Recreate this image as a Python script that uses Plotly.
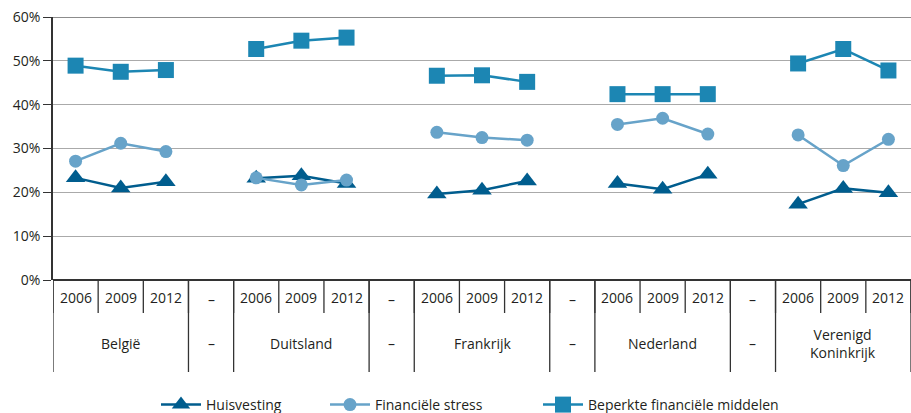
import plotly.graph_objects as go

countries = ["België", "Duitsland", "Frankrijk", "Nederland", "Verenigd<br>Koninkrijk"]
years = ["2006", "2009", "2012"]
separator = "–"

huisvesting = [23.3, 21.0, 22.4, 23.2, 23.8, 22.0, 19.6, 20.5, 22.6, 22.0, 20.7, 24.1, 17.3, 20.9, 19.9]
financiele_stress = [27.1, 31.2, 29.3, 23.3, 21.7, 22.8, 33.7, 32.5, 31.9, 35.5, 36.9, 33.3, 33.1, 26.1, 32.1]
beperkte_middelen = [48.9, 47.5, 47.9, 52.7, 54.6, 55.3, 46.6, 46.7, 45.2, 42.4, 42.4, 42.4, 49.4, 52.7, 47.8]

y_ticks = [0, 10, 20, 30, 40, 50, 60]
y_labels = ["0%", "10%", "20%", "30%", "40%", "50%", "60%"]

FONT = "Open Sans"
TXT = "#231f20"
FS = 14

def expand(vals):
    out = []
    for ci in range(len(countries)):
        out.extend(vals[ci * 3:ci * 3 + 3])
        if ci < len(countries) - 1:
            out.append(None)
    return out

ncol = len(countries) * 4 - 1
xs = list(range(ncol))

L, R = 53, 911
H = 263.0
def py(px):
    return (280 - px) / H
def px_(p):
    return (p - L) / (R - L)

series = [
    ("Huisvesting", huisvesting, "#005d8e", "triangle-up", 17, "legend", 161),
    ("Financiële stress", financiele_stress, "#67a3c9", "circle", 13, "legend2", 330),
    ("Beperkte financiële middelen", beperkte_middelen, "#1c86b3", "square", 16, "legend3", 543),
]

fig = go.Figure()
legends = {}
for name, vals, col, sym, sz, lg, lx in series:
    fig.add_trace(go.Scatter(
        x=xs, y=expand(vals), name=name, mode="lines+markers",
        line=dict(color=col, width=2.5), connectgaps=False,
        marker=dict(symbol=sym, size=sz, color=col), legend=lg,
    ))
    legends[lg] = dict(orientation="h", x=px_(lx - 5), xanchor="left", y=py(405), yanchor="middle",
                       font=dict(size=FS, color=TXT, family=FONT), itemwidth=40,
                       bgcolor="rgba(0,0,0,0)")

shapes = []
annots = []
shapes.append(dict(type="line", xref="paper", yref="y", x0=0, x1=1, y0=60, y1=60,
                   line=dict(color="#666666", width=1.5)))
for i in range(ncol + 1):
    b = i - 0.5
    shapes.append(dict(type="line", xref="x", yref="paper", x0=b, x1=b, y0=0, y1=py(313),
                       line=dict(color="#333333", width=1.3)))
group_edges = [-0.5]
for ci in range(len(countries)):
    start = ci * 4
    group_edges.append(start + 2.5)
    if ci < len(countries) - 1:
        group_edges.append(start + 3.5)
for b in group_edges:
    shapes.append(dict(type="line", xref="x", yref="paper", x0=b, x1=b, y0=0, y1=py(372),
                       line=dict(color="#333333", width=1.3)))

def ann(x, ypx, text):
    return dict(x=x, y=py(ypx), xref="x", yref="paper", text=text, showarrow=False,
                xanchor="center", yanchor="middle",
                font=dict(size=FS, color=TXT, family=FONT))

for ci, c in enumerate(countries):
    start = ci * 4
    for yi, yr in enumerate(years):
        annots.append(ann(start + yi, 297, yr))
    annots.append(ann(start + 1, 343, c))
    if ci < len(countries) - 1:
        annots.append(ann(start + 3, 299, separator))
        annots.append(ann(start + 3, 343, separator))

fig.update_layout(
    width=911, height=413,
    margin=dict(l=L, r=911 - R, t=17, b=133, autoexpand=False),
    paper_bgcolor="white", plot_bgcolor="white",
    font=dict(family=FONT, size=FS, color=TXT),
    showlegend=True,
    shapes=shapes, annotations=annots,
    xaxis=dict(range=[-0.5, ncol - 0.5], showticklabels=False, showgrid=False,
               zeroline=False, showline=False, ticks=""),
    yaxis=dict(range=[0, 60], tickvals=y_ticks, ticktext=y_labels,
               showgrid=True, gridcolor="#aaaaaa", gridwidth=1.3,
               showline=True, linecolor="#333333", linewidth=1.5,
               ticks="outside", ticklen=8, tickcolor="#333333",
               zeroline=True, zerolinecolor="#333333", zerolinewidth=1.5,
               tickfont=dict(size=FS, color=TXT, family=FONT)),
    **legends,
)

fig.write_html("out.html", config={"displayModeBar": False},
               post_script="document.body.style.margin='0';")
